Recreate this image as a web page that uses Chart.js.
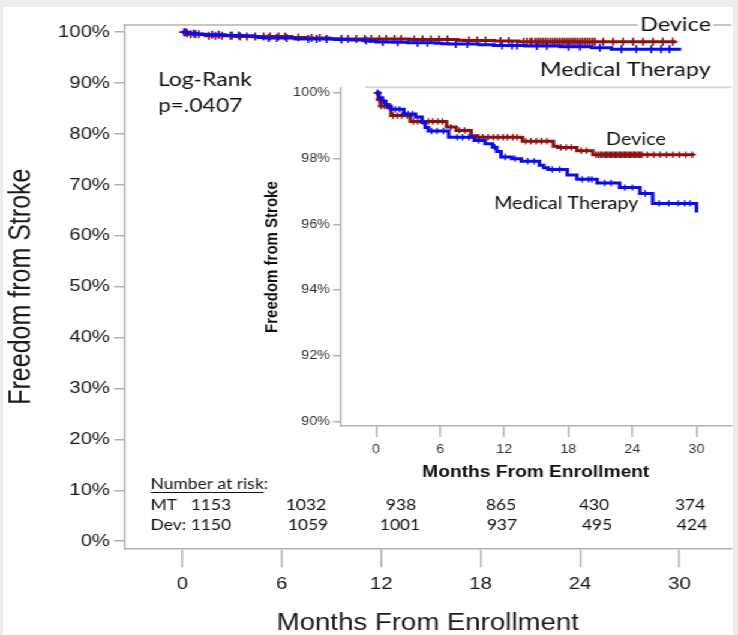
<!DOCTYPE html>
<html>
<head>
<meta charset="utf-8">
<script src="https://cdn.jsdelivr.net/npm/chart.js@4.4.1/dist/chart.umd.min.js"></script>
<style>
  html, body { margin: 0; padding: 0; width: 738px; height: 635px; overflow: hidden; background: #ececec; }
  #panel { position: absolute; left: 3px; top: 7px; width: 730px; height: 628px; background: #fff; }
  /* the whole figure is laid out 615px wide and widened to 738px */
  #stage { position: absolute; left: 0; top: 0; width: 615px; height: 635px; transform: scaleX(1.2); transform-origin: 0 0; }
  #main { position: absolute; left: 0; top: 0; }
  #inset { position: absolute; left: 215px; top: 80.8px; }
</style>
</head>
<body>
<div id="panel"></div>
<div id="stage">
  <canvas id="main" width="615" height="635"></canvas>
  <canvas id="inset" width="400" height="403"></canvas>
</div>
<script>
// ---- data ----
const monthTicks = [0, 6, 12, 18, 24, 30];
const mainPctTicks = [0, 10, 20, 30, 40, 50, 60, 70, 80, 90, 100];
const insetPctTicks = [90, 92, 94, 96, 98, 100];

// Kaplan-Meier steps: month of each step and freedom from stroke (%) after it
const mtMonths   = [0, 0.3, 0.6, 0.9, 1.2, 1.4, 2.6, 3.7, 4.3, 4.6, 4.9, 6.8, 9.2, 10.2, 10.9, 11.3, 11.7, 12.7, 13.6, 15.3, 15.7, 16.1, 17.9, 18.8, 20.7, 22.8, 24.7, 25.9, 30.0];
const mtSurvival = [100, 99.85, 99.75, 99.65, 99.55, 99.50, 99.36, 99.27, 99.10, 98.95, 98.84, 98.65, 98.55, 98.45, 98.35, 98.22, 98.05, 98.00, 97.92, 97.80, 97.72, 97.67, 97.50, 97.37, 97.26, 97.12, 96.94, 96.64, 96.36];
const devMonths   = [0, 0.2, 0.4, 1.4, 3.2, 6.6, 7.5, 8.9, 9.4, 13.7, 16.6, 17.0, 18.8, 20.3, 29.8];
const devSurvival = [100, 99.8, 99.6, 99.31, 99.13, 98.96, 98.86, 98.70, 98.65, 98.53, 98.38, 98.34, 98.24, 98.12, 98.12];

// censored follow-up (months)
const mtCensored  = [0.2, 0.7, 1.8, 2.2, 3.0, 3.4, 5.2, 5.7, 6.3, 7.6, 8.1, 8.7, 9.6, 11.1, 12.1, 13.0, 14.2, 14.8, 16.5, 17.2, 19.3, 19.9, 20.2, 21.4, 22.0, 23.3, 24.0, 25.2, 26.5, 27.4, 28.3, 28.9, 29.4];
const devCensored = [0.1, 0.3, 0.5, 0.8, 1.0, 1.6, 2.0, 2.4, 2.9, 3.5, 3.9, 4.4, 4.9, 5.3, 5.8, 6.2, 7.0, 7.8, 8.3, 9.6, 10.0, 10.5, 11.0, 11.4, 11.9, 12.3, 12.8, 13.2, 14.0, 14.5, 15.0, 15.5, 16.0, 17.3, 17.8, 18.3, 19.2, 19.7,
                     20.6, 20.8, 21.0, 21.1, 21.3, 21.45, 21.6, 21.75, 21.9, 22.05, 22.2, 22.35, 22.5, 22.65, 22.8, 22.95, 23.1, 23.25, 23.4, 23.55, 23.7, 23.85, 24.0, 24.15, 24.3, 24.45, 24.6, 24.75, 24.9,
                     25.4, 26.0, 26.6, 27.2, 27.8, 28.4, 29.0, 29.6];

// number at risk
const riskMT  = [1153, 1032, 938, 865, 430, 374];
const riskDev = [1150, 1059, 1001, 937, 495, 424];

// ---- helpers ----
const MT_COLOR = '#0b0bf2';
const DEV_COLOR = '#8b1010';
const AXIS_COLOR = '#b2b2b2';
Chart.defaults.font.family = "'Liberation Sans', Arial, sans-serif";
const NOTE_FONT = "Lato, 'Open Sans', sans-serif";

const survAt = (months, surv, t) => {
  let v = surv[0];
  for (let i = 0; i < months.length; i++) if (months[i] <= t) v = surv[i];
  return v;
};
const stepPoints = (months, surv) => months.map((m, i) => ({ x: m, y: surv[i] }));
const censorPoints = (cens, months, surv) => cens.map(t => ({ x: t, y: survAt(months, surv, t) }));

function kmDatasets(lineW, markR, markW) {
  return [
    { type: 'line', data: stepPoints(mtMonths, mtSurvival), borderColor: MT_COLOR, borderWidth: lineW, stepped: 'before', pointRadius: 0, fill: false },
    { type: 'line', data: stepPoints(devMonths, devSurvival), borderColor: DEV_COLOR, borderWidth: lineW, stepped: 'before', pointRadius: 0, fill: false },
    { type: 'scatter', data: censorPoints(mtCensored, mtMonths, mtSurvival), pointStyle: 'cross', pointRadius: markR, pointBorderWidth: markW, borderColor: MT_COLOR, backgroundColor: MT_COLOR, showLine: false },
    { type: 'scatter', data: censorPoints(devCensored, devMonths, devSurvival), pointStyle: 'cross', pointRadius: markR, pointBorderWidth: markW, borderColor: DEV_COLOR, backgroundColor: DEV_COLOR, showLine: false }
  ];
}

function text(ctx, s, x, y, size, opts = {}) {
  ctx.font = (opts.weight || 'normal') + ' ' + size + 'px ' + (opts.family || NOTE_FONT);
  ctx.textAlign = opts.align || 'left';
  ctx.textBaseline = 'middle';
  const w = ctx.measureText(s).width;
  if (opts.bg) {
    const x0 = opts.align === 'center' ? x - w / 2 : x;
    ctx.fillStyle = opts.bg;
    ctx.fillRect(x0 - 2, y - size * 0.55, w + 4, size * 1.1);
  }
  ctx.fillStyle = opts.color || '#111';
  ctx.fillText(s, x, y);
  return w;
}

// ---- main chart ----
const mainNotes = {
  id: 'mainNotes',
  afterDraw(chart) {
    const { ctx, chartArea: a } = chart;
    ctx.save();
    ctx.strokeStyle = AXIS_COLOR;
    ctx.lineWidth = 1.5;
    ctx.beginPath();
    ctx.moveTo(a.left, a.top);
    ctx.lineTo(a.right, a.top);
    ctx.stroke();

    text(ctx, 'Device', 533.5, 24.5, 19.5, { bg: '#fff' });
    text(ctx, 'Medical Therapy', 450, 70, 19.5);
    text(ctx, 'Log-Rank', 131.7, 80, 19);
    text(ctx, 'p=.0407', 131.7, 106, 19);

    // number at risk table
    const w = text(ctx, 'Number at risk', 125.6, 484, 14.5);
    text(ctx, ':', 125.6 + w, 484, 14.5);
    ctx.strokeStyle = '#111';
    ctx.lineWidth = 1;
    ctx.beginPath();
    ctx.moveTo(125.6, 492.5);
    ctx.lineTo(125.6 + w, 492.5);
    ctx.stroke();
    text(ctx, 'MT', 125.6, 505.5, 14.5);
    text(ctx, 'Dev:', 125.6, 525.5, 14.5);
    const mtX = [null, 255, 334.2, 417.5, 495, 575];
    const devX = [null, 256.7, 333.3, 418.3, 497.5, 576.7];
    riskMT.forEach((n, i) => {
      if (i === 0) text(ctx, String(n), 158.9, 505.5, 14.5);
      else text(ctx, String(n), mtX[i], 505.5, 14.5, { align: 'center' });
    });
    riskDev.forEach((n, i) => {
      if (i === 0) text(ctx, String(n), 158.9, 525.5, 14.5);
      else text(ctx, String(n), devX[i], 525.5, 14.5, { align: 'center' });
    });
    ctx.restore();
  }
};

new Chart(document.getElementById('main'), {
  data: { datasets: kmDatasets(3, 4, 1.6) },
  options: {
    responsive: false,
    animation: false,
    layout: { padding: { top: 25, left: 0, right: 0, bottom: 0 } },
    plugins: { legend: { display: false }, tooltip: { enabled: false } },
    scales: {
      x: {
        type: 'linear', min: -3.5, max: 33.13,
        afterBuildTicks: s => { s.ticks = monthTicks.map(v => ({ value: v })); },
        afterFit: s => { s.height = 86.7; },
        grid: { drawOnChartArea: false, drawTicks: true, tickLength: 19, color: AXIS_COLOR, lineWidth: 1.5 },
        border: { color: AXIS_COLOR, width: 1.5 },
        ticks: { font: { size: 17 }, color: '#1a1a1a', padding: 7, maxRotation: 0, autoSkip: false },
        title: { display: true, text: 'Months From Enrollment', font: { size: 23 }, color: '#1a1a1a', padding: { top: 0, bottom: -2 } }
      },
      y: {
        type: 'linear', min: -1.4, max: 101.4,
        afterBuildTicks: s => { s.ticks = mainPctTicks.map(v => ({ value: v })); },
        afterFit: s => { s.width = 103.6; },
        grid: { drawOnChartArea: false, drawTicks: true, tickLength: 8.5, color: AXIS_COLOR, lineWidth: 1.5 },
        border: { color: AXIS_COLOR, width: 1.5 },
        ticks: { font: { size: 17 }, color: '#1a1a1a', padding: 3.4, callback: v => v + '%' },
        title: { display: true, text: 'Freedom from Stroke', font: { size: 25 }, color: '#1a1a1a', padding: { top: 3, bottom: 0 } }
      }
    }
  },
  plugins: [mainNotes]
});

// ---- inset (zoomed) chart ----
const insetNotes = {
  id: 'insetNotes',
  afterDraw(chart) {
    const { ctx, chartArea: a } = chart;
    ctx.save();
    ctx.strokeStyle = '#d6d6d6';
    ctx.lineWidth = 2;
    ctx.beginPath();
    ctx.moveTo(89, 6.2);
    ctx.lineTo(a.right, 6.2);
    ctx.stroke();
    text(ctx, 'Device', 290, 58.2, 16.5);
    text(ctx, 'Medical Therapy', 196.7, 122.2, 16.5);
    ctx.restore();
  }
};

new Chart(document.getElementById('inset'), {
  data: { datasets: kmDatasets(3, 3.2, 1.3) },
  options: {
    responsive: false,
    animation: false,
    layout: { padding: { top: 7.2, left: 0, right: 0, bottom: 0 } },
    plugins: { legend: { display: false }, tooltip: { enabled: false } },
    scales: {
      x: {
        type: 'linear', min: -3.38, max: 33.29,
        afterBuildTicks: s => { s.ticks = monthTicks.map(v => ({ value: v })); },
        afterFit: s => { s.height = 58; s.paddingLeft = 0; s.paddingRight = 0; },
        grid: { drawOnChartArea: false, drawTicks: true, tickLength: 11, color: AXIS_COLOR, lineWidth: 1.5 },
        border: { color: AXIS_COLOR, width: 1.5 },
        ticks: { font: { size: 12 }, color: '#333', padding: 5, maxRotation: 0, autoSkip: false },
        title: { display: true, text: 'Months From Enrollment', font: { size: 16, weight: 'bold' }, color: '#111', padding: { top: 0, bottom: 2 } }
      },
      y: {
        type: 'linear', min: 89.869, max: 100.143,
        afterBuildTicks: s => { s.ticks = insetPctTicks.map(v => ({ value: v })); },
        afterFit: s => { s.width = 68.3; s.paddingTop = 0; s.paddingBottom = 0; },
        grid: { drawOnChartArea: false, drawTicks: true, tickLength: 5.8, color: AXIS_COLOR, lineWidth: 1.5 },
        border: { color: AXIS_COLOR, width: 1.5 },
        ticks: { font: { size: 12 }, color: '#333', padding: 2.5, callback: v => v + '%' },
        title: { display: true, text: 'Freedom from Stroke', font: { size: 15, weight: 'bold' }, color: '#111', padding: { top: 3, bottom: 0 } }
      }
    }
  },
  plugins: [insetNotes]
});
</script>
</body>
</html>
